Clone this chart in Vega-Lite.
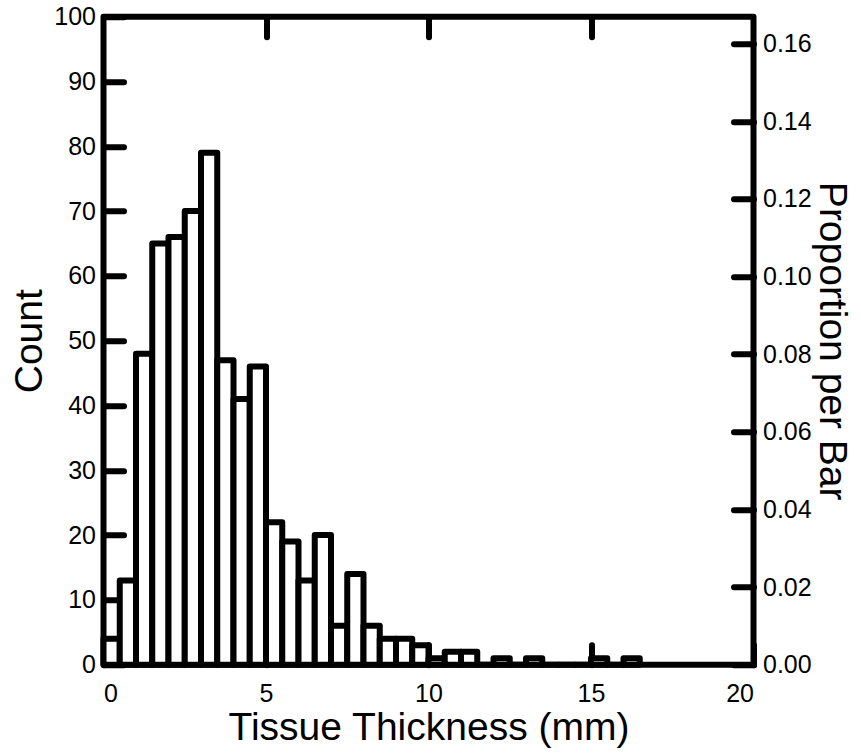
{
  "$schema": "https://vega.github.io/schema/vega-lite/v6.json",
  "width": 650,
  "height": 648,
  "autosize": "none",
  "padding": {"left": 103.5, "top": 16.7, "right": 107.5, "bottom": 91.3},
  "background": "white",
  "config": {
    "view": {"stroke": "black", "strokeWidth": 6, "strokeJoin": "round"},
    "axis": {
      "domain": false,
      "grid": false,
      "tickColor": "black",
      "tickWidth": 6,
      "tickCap": "round",
      "tickSize": -20,
      "labelFont": "Liberation Sans",
      "labelFontSize": 25,
      "labelColor": "black",
      "titleFont": "Liberation Sans",
      "titleFontSize": 39,
      "titleFontWeight": "normal",
      "titleColor": "black",
      "zindex": 1
    }
  },
  "data": {
    "values": [
      {"bin_start": 0, "bin_end": 0.5, "count": 4},
      {"bin_start": 0.5, "bin_end": 1, "count": 13},
      {"bin_start": 1, "bin_end": 1.5, "count": 48},
      {"bin_start": 1.5, "bin_end": 2, "count": 65},
      {"bin_start": 2, "bin_end": 2.5, "count": 66},
      {"bin_start": 2.5, "bin_end": 3, "count": 70},
      {"bin_start": 3, "bin_end": 3.5, "count": 79},
      {"bin_start": 3.5, "bin_end": 4, "count": 47},
      {"bin_start": 4, "bin_end": 4.5, "count": 41},
      {"bin_start": 4.5, "bin_end": 5, "count": 46},
      {"bin_start": 5, "bin_end": 5.5, "count": 22},
      {"bin_start": 5.5, "bin_end": 6, "count": 19},
      {"bin_start": 6, "bin_end": 6.5, "count": 13},
      {"bin_start": 6.5, "bin_end": 7, "count": 20},
      {"bin_start": 7, "bin_end": 7.5, "count": 6},
      {"bin_start": 7.5, "bin_end": 8, "count": 14},
      {"bin_start": 8, "bin_end": 8.5, "count": 6},
      {"bin_start": 8.5, "bin_end": 9, "count": 4},
      {"bin_start": 9, "bin_end": 9.5, "count": 4},
      {"bin_start": 9.5, "bin_end": 10, "count": 3},
      {"bin_start": 10, "bin_end": 10.5, "count": 1},
      {"bin_start": 10.5, "bin_end": 11, "count": 2},
      {"bin_start": 11, "bin_end": 11.5, "count": 2},
      {"bin_start": 11.5, "bin_end": 12, "count": 0},
      {"bin_start": 12, "bin_end": 12.5, "count": 1},
      {"bin_start": 12.5, "bin_end": 13, "count": 0},
      {"bin_start": 13, "bin_end": 13.5, "count": 1},
      {"bin_start": 13.5, "bin_end": 14, "count": 0},
      {"bin_start": 14, "bin_end": 14.5, "count": 0},
      {"bin_start": 14.5, "bin_end": 15, "count": 0},
      {"bin_start": 15, "bin_end": 15.5, "count": 1},
      {"bin_start": 15.5, "bin_end": 16, "count": 0},
      {"bin_start": 16, "bin_end": 16.5, "count": 1}
    ]
  },
  "layer": [
    {
      "mark": {"type": "bar", "fill": "white", "stroke": "black", "strokeWidth": 6, "strokeJoin": "round"},
      "encoding": {
        "x": {
          "field": "bin_start", "type": "quantitative",
          "scale": {"domain": [0, 20], "nice": false, "zero": false},
          "axis": {"orient": "bottom", "values": [0, 5, 10, 15, 20], "format": "d", "labelPadding": 37, "title": "Tissue Thickness (mm)", "titlePadding": 2}
        },
        "x2": {"field": "bin_end"},
        "y": {
          "field": "count", "type": "quantitative",
          "scale": {"domain": [0, 100], "nice": false},
          "axis": {"orient": "left", "values": [0, 10, 20, 30, 40, 50, 60, 70, 80, 90, 100], "labelPadding": 28, "title": "Count", "titlePadding": 4}
        },
        "y2": {"datum": 0}
      }
    },
    {
      "mark": {"type": "bar", "opacity": 0},
      "encoding": {
        "x": {
          "field": "bin_start", "type": "quantitative",
          "scale": {"domain": [0, 20], "nice": false, "zero": false},
          "axis": {"orient": "top", "values": [5, 10, 15], "labels": false, "title": null}
        },
        "x2": {"field": "bin_end"},
        "y": {
          "field": "count", "type": "quantitative",
          "scale": {"domain": [0, 100], "nice": false},
          "axis": {"orient": "right", "values": [0, 11.98, 23.96, 35.94, 47.92, 59.9, 71.88, 83.86, 95.84], "labelExpr": "format(datum.value / 599, '.2f')", "labelPadding": 29, "title": "Proportion per Bar", "titlePadding": 0}
        },
        "y2": {"datum": 0}
      }
    }
  ],
  "resolve": {"axis": {"x": "independent", "y": "independent"}}
}
